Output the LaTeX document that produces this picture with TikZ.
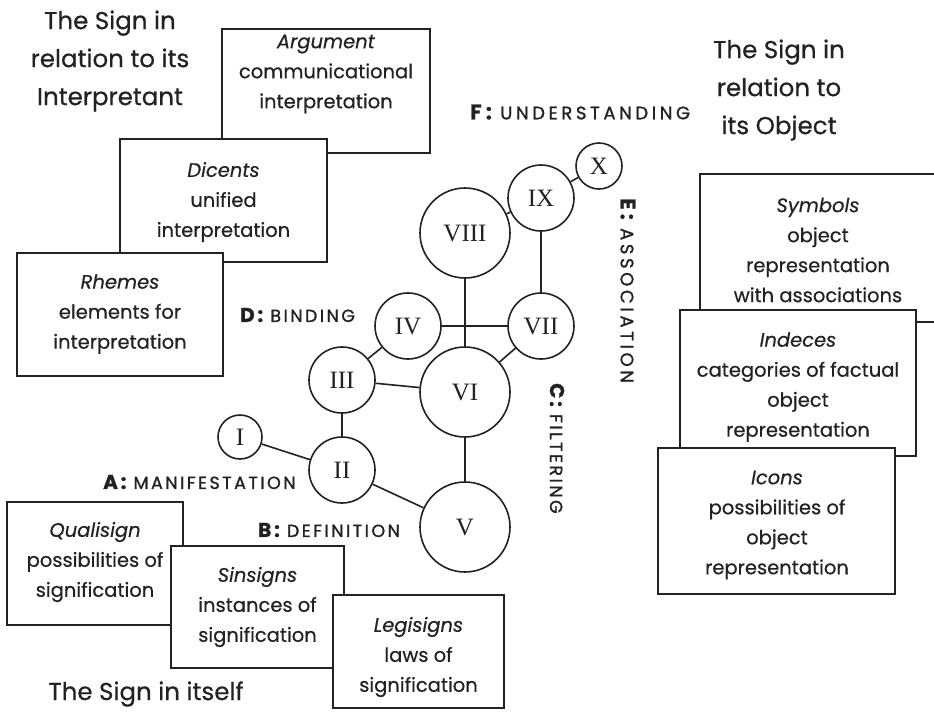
\documentclass[tikz,border=0pt]{standalone}
\usepackage{fontspec}
\setmainfont{Poppins}[FakeBold=0.5]
\newfontfamily\romanfont{Liberation Serif}
\newfontfamily\labfont{Poppins}[LetterSpace=14,FakeBold=1.2]
\newfontfamily\labfontwide{Poppins}[LetterSpace=20,FakeBold=1.2]
\definecolor{ink}{HTML}{222222}
\begin{document}
\begin{tikzpicture}[x=1pt,y=-1pt,
  circ/.style={circle,draw=ink,line width=1.6pt,fill=white,inner sep=0pt,text=ink,font=\romanfont\fontsize{25}{25}\selectfont},
  box/.style={draw=ink,line width=1.6pt,fill=white,inner sep=0pt},
  boxtext/.style={align=center,inner sep=0pt,text=ink,font=\fontsize{19.5}{30}\selectfont},
  title/.style={align=center,inner sep=0pt,text=ink,font=\fontsize{24.5}{38}\selectfont},
  edge/.style={draw=ink,line width=1.6pt},
  lab/.style={text=ink,inner sep=0pt,font=\labfont\fontsize{17.5}{18}\selectfont},
  labwide/.style={text=ink,inner sep=0pt,font=\labfontwide\fontsize{18}{18}\selectfont}]
\fill[white] (0,0) rectangle (934,718);
\useasboundingbox (0,0) rectangle (934,718);

% titles
\node[title] (tInt) at (110,61) {The Sign in\\relation to its\\Interpretant};
\node[title] (tObj) at (779,90) {The Sign in\\relation to\\its Object};
\node[title] (tSelf) at (146,694) {The Sign in itself};

% interpretant boxes
\node[box,minimum width=208pt,minimum height=124pt] (argbox) at (326,91) {};
\node[boxtext] (argt) at (326,74) {\textit{Argument}\\communicational\\interpretation};
\node[box,minimum width=207pt,minimum height=123pt] (dicbox) at (223.5,200.5) {};
\node[boxtext] (dict) at (223.5,202) {\textit{Dicents}\\unified\\interpretation};
\node[box,minimum width=206pt,minimum height=123pt] (rhebox) at (120,314.5) {};
\node[boxtext] (rhet) at (120,314) {\textit{Rhemes}\\elements for\\interpretation};

% object boxes
\node[box,minimum width=237pt,minimum height=148pt] (symbox) at (818.5,248) {};
\node[boxtext] (symt) at (818,250) {\textit{Symbols}\\object\\representation\\with associations};
\node[box,minimum width=236pt,minimum height=146pt] (indbox) at (798,383) {};
\node[boxtext] (indt) at (798,387) {\textit{Indeces}\\categories of factual\\object\\representation};
\node[box,minimum width=237pt,minimum height=146pt] (icobox) at (776.5,521) {};
\node[boxtext] (icot) at (777,525) {\textit{Icons}\\possibilities of\\object\\representation};

% sign boxes
\node[box,minimum width=176pt,minimum height=123pt] (quabox) at (95,563.5) {};
\node[boxtext] (quat) at (95,562) {\textit{Qualisign}\\possibilities of\\signification};
\node[box,minimum width=173pt,minimum height=122pt] (sinbox) at (257.5,607) {};
\node[boxtext] (sint) at (257.5,607) {\textit{Sinsigns}\\instances of\\signification};
\node[box,minimum width=171pt,minimum height=113pt] (legbox) at (418.5,651.5) {};
\node[boxtext] (legt) at (418.5,657) {\textit{Legisigns}\\laws of\\signification};

% circles
\node[circ,minimum size=44pt] (I) at (240,437) {I};
\node[circ,minimum size=66pt] (II) at (342,470) {II};
\node[circ,minimum size=66pt] (III) at (342,380) {III};
\node[circ,minimum size=66pt] (IV) at (408,326) {IV};
\node[circ,minimum size=90pt] (VI) at (465,392) {VI};
\node[circ,minimum size=66pt] (VII) at (541,326) {VII};
\node[circ,minimum size=90pt] (V) at (465,527) {V};
\node[circ,minimum size=90pt] (VIII) at (465,233) {VIII};
\node[circ,minimum size=66pt] (IX) at (541,198) {IX};
\node[circ,minimum size=46pt] (X) at (599,166) {X};

% connectors
\draw[edge] (I) -- (II);
\draw[edge] (II) -- (III);
\draw[edge] (II) -- (V);
\draw[edge] (III) -- (IV);
\draw[edge] (III) -- (VI);
\draw[edge] (VI) -- (V);
\draw[edge] (VI) -- (VII);
\draw[edge] (IV) -- (VII);
\draw[edge] (VIII) -- (VI);
\draw[edge] (VIII) -- (IX);
\draw[edge] (IX) -- (VII);
\draw[edge] (IX) -- (X);

% stage labels
\node[labwide,anchor=west] (labF) at (470,112) {{\bfseries\fontsize{21}{21}\selectfont F:} UNDERSTANDING};
\node[lab,anchor=west] (labD) at (240,315) {{\bfseries\fontsize{20}{20}\selectfont D:} BINDING};
\node[lab,anchor=west] (labA) at (103,482) {{\bfseries\fontsize{20}{20}\selectfont A:} MANIFESTATION};
\node[lab,anchor=west] (labB) at (258,530) {{\bfseries\fontsize{20}{20}\selectfont B:} DEFINITION};
\node[labwide,rotate=-90,anchor=west] (labE) at (628,198) {{\bfseries\fontsize{21}{21}\selectfont E:} ASSOCIATION};
\node[lab,rotate=-90,anchor=west] (labC) at (557,383) {{\bfseries\fontsize{20}{20}\selectfont C:} FILTERING};
\end{tikzpicture}
\end{document}
